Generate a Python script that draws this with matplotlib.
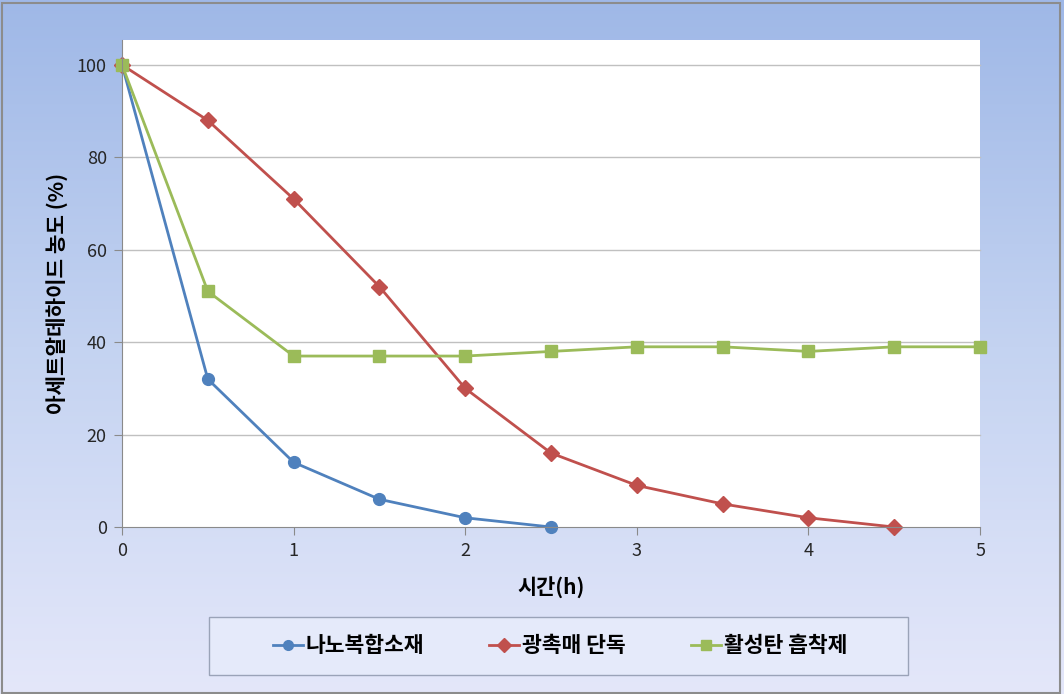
import numpy as np
import matplotlib
matplotlib.use('Agg')
import matplotlib.pyplot as plt
from matplotlib.colors import LinearSegmentedColormap
from matplotlib.patches import Rectangle

plt.rcParams['font.family'] = ['Noto Sans CJK KR', 'DejaVu Sans']

# data
hours_nano = [0, 0.5, 1, 1.5, 2, 2.5]
nano = [100, 32, 14, 6, 2, 0]

hours_photo = [0, 0.5, 1, 1.5, 2, 2.5, 3, 3.5, 4, 4.5]
photo = [100, 88, 71, 52, 30, 16, 9, 5, 2, 0]

hours_carbon = [0, 0.5, 1, 1.5, 2, 2.5, 3, 3.5, 4, 4.5, 5]
carbon = [100, 51, 37, 37, 37, 38, 39, 39, 38, 39, 39]

labels = ['나노복합소재', '광촉매 단독', '활성탄 흡착제']
y_ticks = [0, 20, 40, 60, 80, 100]
x_ticks = [0, 1, 2, 3, 4, 5]

fig = plt.figure(figsize=(10.64, 6.94), dpi=100)

# gradient background like the excel chart area
bg = fig.add_axes([0, 0, 1, 1], zorder=-10)
cmap = LinearSegmentedColormap.from_list('bg', ['#9fb8e7', '#c4d3f1', '#e4e7fa'])
grad = np.linspace(1, 0, 256).reshape(-1, 1)
bg.imshow(grad, aspect='auto', cmap=cmap, extent=[0, 1, 0, 1], origin='lower')
bg.set_xlim(0, 1)
bg.set_ylim(0, 1)
bg.axis('off')
bg.add_patch(Rectangle((0.002, 0.002), 0.994, 0.993, fill=False,
                       edgecolor='#8c8c8c', lw=1.5, transform=bg.transAxes))
# legend box (drawn separately, wider than its entries)
bg.add_patch(Rectangle((209 / 1064, 19 / 694), 699 / 1064, 58 / 694,
                       facecolor='#e5eafa', edgecolor='#9aa3b8', lw=1,
                       transform=bg.transAxes))

ax = fig.add_axes([0.1147, 0.2406, 0.8064, 0.7018])
ax.set_facecolor('white')

ax.plot(hours_nano, nano, color='#4f81bd', lw=2, marker='o', ms=8.5,
        label=labels[0])
ax.plot(hours_photo, photo, color='#c0504d', lw=2, marker='D', ms=8,
        label=labels[1])
ax.plot(hours_carbon, carbon, color='#9bbb59', lw=2, marker='s', ms=8.5,
        label=labels[2])

ax.set_xlim(0, 5)
ax.set_ylim(0, 105.4)
ax.set_xticks(x_ticks)
ax.set_yticks(y_ticks)
for y in y_ticks[1:]:
    ax.axhline(y, color='#c0c0c0', lw=1, zorder=0)

for s in ['top', 'right']:
    ax.spines[s].set_visible(False)
for s in ['left', 'bottom']:
    ax.spines[s].set_color('#8a8a8a')
ax.tick_params(axis='both', direction='out', length=6, color='#8a8a8a',
               labelsize=13, labelcolor='#262626', pad=5)

ax.set_xlabel('시간(h)', fontsize=15, fontweight='bold', labelpad=12)
ax.set_ylabel('아세트알데하이드 농도 (%)', fontsize=15.3, fontweight='bold')
ax.yaxis.set_label_coords(-0.063, 0.48)

leg = fig.legend(loc='center', bbox_to_anchor=(560 / 1064, 48 / 694), ncol=3,
                 frameon=False, prop={'size': 15.5, 'weight': 'bold'},
                 handlelength=1.4, columnspacing=3.0, borderpad=0,
                 handletextpad=0.15, borderaxespad=0)
for h in leg.legend_handles:
    h.set_markersize(7)

for line in ax.get_lines():
    line.set_clip_on(False)

fig.savefig('out.png', dpi=100)
